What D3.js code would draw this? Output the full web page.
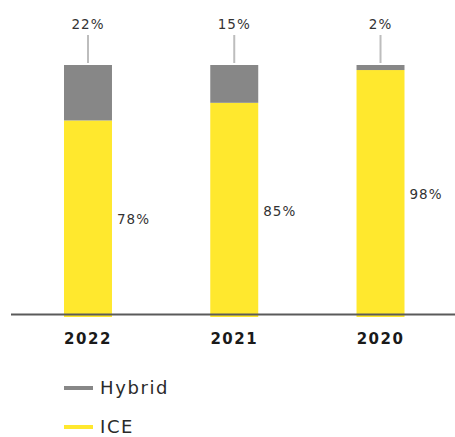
<!DOCTYPE html>
<html>
<head>
<meta charset="utf-8">
<script src="https://cdn.jsdelivr.net/npm/d3@7"></script>
<style>
  html, body { margin: 0; padding: 0; background: #fff; }
  svg { display: block; font-family: "DejaVu Sans", sans-serif; }
</style>
</head>
<body>
<svg id="chart" width="455" height="437"></svg>
<script>
// Powertrain mix by year (share of total, %)
const years = ["2022", "2021", "2020"];
const hybrid = [22, 15, 2];
const ice = [78, 85, 98];
const seriesNames = ["Hybrid", "ICE"];
const seriesColors = ["#878787", "#FFE82E"];

const rows = years.map((y, i) => ({ year: y, ICE: ice[i], Hybrid: hybrid[i] }));

const svg = d3.select("#chart");

const x = d3.scaleBand()
  .domain(years)
  .range([64, 404.5])
  .paddingInner(0.672)
  .paddingOuter(0);

const y = d3.scaleLinear()
  .domain([0, 100])
  .range([317, 65]);

// ICE at the bottom, Hybrid stacked on top
const stack = d3.stack().keys(["ICE", "Hybrid"]);
const layers = stack(rows);
const colorOf = { ICE: seriesColors[1], Hybrid: seriesColors[0] };

svg.append("g")
  .selectAll("g")
  .data(layers)
  .join("g")
  .attr("fill", d => colorOf[d.key])
  .selectAll("rect")
  .data(d => d)
  .join("rect")
  .attr("x", d => x(d.data.year))
  .attr("width", x.bandwidth())
  .attr("y", d => y(d[1]))
  .attr("height", d => y(d[0]) - y(d[1]));

// Baseline
svg.append("line")
  .attr("x1", 11).attr("x2", 455)
  .attr("y1", 314.5).attr("y2", 314.5)
  .attr("stroke", "#5a5a5a")
  .attr("stroke-width", 2);

// Hybrid share labels with leader lines above each bar
const cx = d => x(d.year) + x.bandwidth() / 2;

svg.append("g")
  .selectAll("line")
  .data(rows)
  .join("line")
  .attr("x1", cx).attr("x2", cx)
  .attr("y1", 35).attr("y2", 63)
  .attr("stroke", "#bdbdbd")
  .attr("stroke-width", 2);

svg.append("g")
  .selectAll("text")
  .data(rows)
  .join("text")
  .attr("x", cx)
  .attr("y", 24)
  .attr("dy", "0.35em")
  .attr("text-anchor", "middle")
  .attr("font-size", 13.5)
  .attr("letter-spacing", 1)
  .attr("fill", "#333")
  .text(d => d.Hybrid + "%");

// ICE share labels to the right of each bar, centred on the ICE segment
svg.append("g")
  .selectAll("text")
  .data(rows)
  .join("text")
  .attr("x", d => x(d.year) + x.bandwidth() + 5)
  .attr("y", d => y(d.ICE / 2) + 1)
  .attr("dy", "0.35em")
  .attr("font-size", 13.5)
  .attr("letter-spacing", 1)
  .attr("fill", "#333")
  .text(d => d.ICE + "%");

// Year axis labels
const axis = d3.axisBottom(x).tickSize(0).tickPadding(0);
const gx = svg.append("g")
  .attr("transform", "translate(0,339)")
  .call(axis);
gx.select(".domain").remove();
gx.selectAll("text")
  .attr("dy", "0.35em")
  .attr("font-family", "DejaVu Sans, sans-serif")
  .attr("font-size", 15)
  .attr("font-weight", "bold")
  .attr("letter-spacing", 1.5)
  .attr("fill", "#1a1a1a");

// Legend
const legend = svg.append("g")
  .selectAll("g")
  .data(seriesNames)
  .join("g")
  .attr("transform", (d, i) => `translate(64,${388 + i * 39})`);

legend.append("line")
  .attr("x1", 0).attr("x2", 29)
  .attr("stroke", (d, i) => seriesColors[i])
  .attr("stroke-width", 4);

legend.append("text")
  .attr("x", 36)
  .attr("dy", "0.35em")
  .attr("font-size", 18)
  .attr("letter-spacing", 1.6)
  .attr("fill", "#2a2a2a")
  .text(d => d);
</script>
</body>
</html>
